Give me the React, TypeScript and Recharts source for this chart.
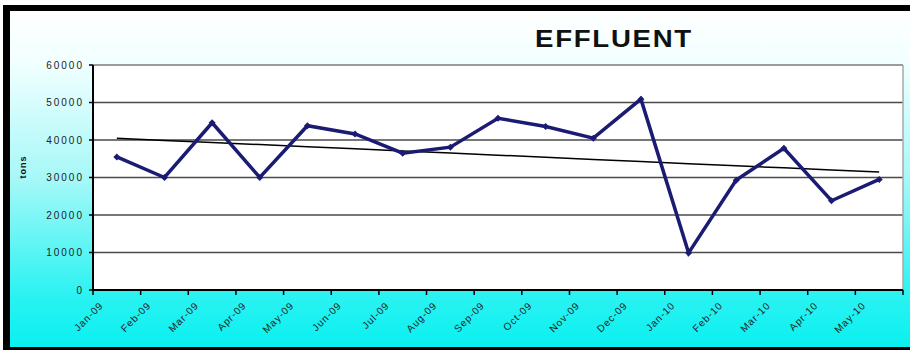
import React from 'react';
import { LineChart, Line, XAxis, YAxis, CartesianGrid, ReferenceLine } from 'recharts';

const months = ['Jan-09', 'Feb-09', 'Mar-09', 'Apr-09', 'May-09', 'Jun-09', 'Jul-09', 'Aug-09', 'Sep-09', 'Oct-09', 'Nov-09', 'Dec-09', 'Jan-10', 'Feb-10', 'Mar-10', 'Apr-10', 'May-10'];
const effluent = [35500, 30000, 44600, 30000, 43800, 41600, 36500, 38100, 45800, 43600, 40500, 50900, 9900, 29300, 37800, 23800, 29500];
const yTicks = [0, 10000, 20000, 30000, 40000, 50000, 60000];
const title = 'EFFLUENT';
const yLabel = 'tons';

// Linear (least squares) trend line over the monthly values
const n = effluent.length;
const meanX = (n - 1) / 2;
const meanY = effluent.reduce((a, b) => a + b, 0) / n;
let sxy = 0;
let sxx = 0;
effluent.forEach((v, i) => {
  sxy += (i - meanX) * (v - meanY);
  sxx += (i - meanX) * (i - meanX);
});
const slope = sxy / sxx;
const intercept = meanY - slope * meanX;

const data = months.map((m, i) => ({
  pos: i + 0.5,
  month: m,
  effluent: effluent[i],
  trend: intercept + slope * i,
}));
const xTicks = months.map((_, i) => i).concat([months.length]);

const FONT = '"Liberation Sans", Arial, sans-serif';
const NAVY = '#1B1B74';

const Diamond = (props: any) => {
  const { cx, cy, index } = props;
  if (cx == null || cy == null) return <g key={index} />;
  const r = 3.5;
  return <path key={index} d={`M${cx},${cy - r}L${cx + r},${cy}L${cx},${cy + r}L${cx - r},${cy}Z`} fill={NAVY} />;
};

const XTick = (props: any) => {
  const { x, y, payload } = props;
  const label = months[payload.value];
  if (!label) return <g />;
  return (
    <text
      x={0}
      y={0}
      transform={`translate(${x + 11},${y + 9}) rotate(-45)`}
      textAnchor="end"
      fontSize={10}
      fontFamily={FONT}
      letterSpacing={1}
      fill="#222"
    >
      {label}
    </text>
  );
};

export default function App() {
  return (
    <div style={{ position: 'absolute', left: 0, top: 0, width: 910, height: 350, overflow: 'hidden', background: '#fff' }}>
      <div
        style={{
          position: 'absolute',
          left: 3,
          top: 5,
          width: 907,
          height: 345,
          boxSizing: 'border-box',
          borderLeft: '7px solid #000',
          borderTop: '6px solid #000',
          borderBottom: '3px solid #000',
          background: 'linear-gradient(to bottom, #ffffff 0%, #f2ffff 15%, #a6f8f8 50%, #2af2f2 85%, #0af0f0 100%)',
        }}
      />
      <div style={{ position: 'absolute', left: 0, top: 0 }}>
        <LineChart width={910} height={350} data={data} margin={{ top: 65, right: 7, bottom: 0, left: 0 }}>
          <CartesianGrid vertical={false} stroke="#4a4a4a" strokeWidth={1.5} fill="#ffffff" />
          <ReferenceLine y={60000} stroke="#a8a8a8" strokeWidth={1.5} />
          <ReferenceLine x={months.length} stroke="#a8a8a8" strokeWidth={1.5} />
          <XAxis
            dataKey="pos"
            type="number"
            domain={[0, months.length]}
            ticks={xTicks}
            interval={0}
            height={60}
            axisLine={{ stroke: '#000', strokeWidth: 2 }}
            tickLine={{ stroke: '#000', strokeWidth: 1.5 }}
            tickSize={5}
            tick={<XTick />}
          />
          <YAxis
            domain={[0, 60000]}
            ticks={yTicks}
            interval={0}
            width={93}
            axisLine={{ stroke: '#000', strokeWidth: 2 }}
            tickLine={{ stroke: '#000', strokeWidth: 1.5 }}
            tickSize={4}
            tickMargin={5}
            tick={{ fontSize: 10, fontFamily: FONT, fill: '#222', letterSpacing: 2 }}
          />
          <Line
            dataKey="trend"
            stroke="#000"
            strokeWidth={1.5}
            dot={false}
            activeDot={false}
            isAnimationActive={false}
          />
          <Line
            dataKey="effluent"
            stroke={NAVY}
            strokeWidth={3.5}
            dot={<Diamond />}
            activeDot={false}
            isAnimationActive={false}
          />
        </LineChart>
      </div>
      <div
        style={{
          position: 'absolute',
          left: 535,
          top: 27,
          fontFamily: FONT,
          fontWeight: 'bold',
          fontSize: 24,
          lineHeight: '24px',
          letterSpacing: 1.5,
          color: '#111',
          whiteSpace: 'nowrap',
          transform: 'scaleX(1.15)',
          transformOrigin: 'left center',
        }}
      >
        {title}
      </div>
      <div
        style={{
          position: 'absolute',
          left: 23,
          top: 167,
          transform: 'translate(-50%, -50%) rotate(-90deg)',
          fontFamily: FONT,
          fontWeight: 'bold',
          fontSize: 9,
          lineHeight: '9px',
          letterSpacing: 1,
          color: '#111',
          whiteSpace: 'nowrap',
        }}
      >
        {yLabel}
      </div>
    </div>
  );
}
